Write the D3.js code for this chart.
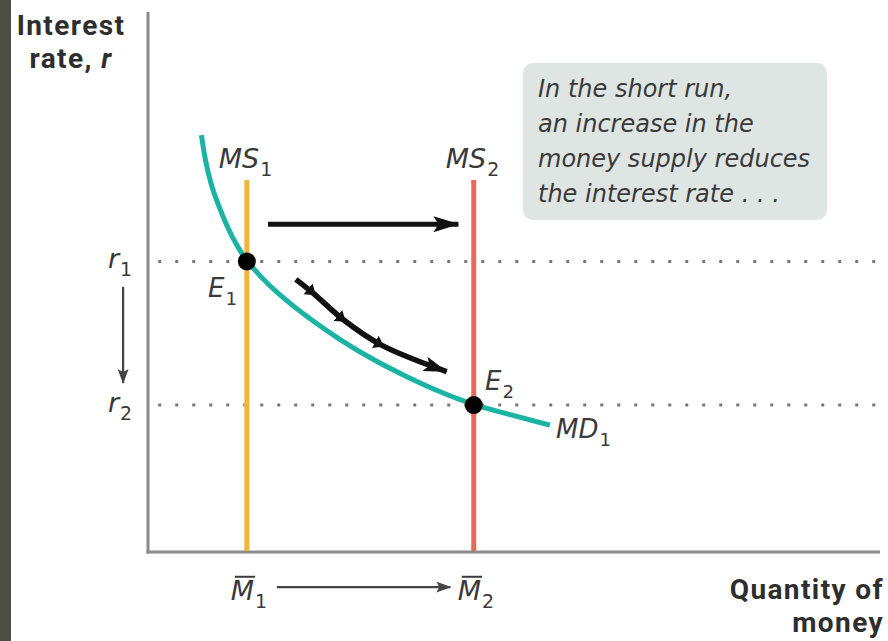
<!DOCTYPE html>
<html><head><meta charset="utf-8">
<script src="https://cdn.jsdelivr.net/npm/d3@7"></script>
<style>
html,body{margin:0;padding:0;background:#fff;}
svg{display:block;}
text{font-family:"Open Sans","DejaVu Sans",sans-serif;fill:#333;}
</style></head>
<body>
<script>
// ---- data (quantity of money 0..100, interest rate 0..100) ----
const mdQuantity = [7.3, 7.8, 8.6, 9.6, 10.7, 12.0, 13.5, 15.6, 17.6, 21.7, 26.2, 30.7, 35.4, 39.9, 44.5, 49.0, 54.9];
const mdRate     = [77.2, 72.6, 68.0, 64.3, 60.6, 57.0, 53.8, 50.7, 48.0, 43.5, 39.3, 35.6, 32.4, 29.6, 27.2, 25.6, 23.5];
const supplyQuantities = [13.5, 44.5];          // MS1, MS2
const supplyTop = 68.9;
const supplyColors = ["#f3b340", "#e9685a"];
const supplyLabels = ["1", "2"];
const equilibriumRates = [53.8, 27.2];          // r1, r2
const rateLabels = ["1", "2"];
const shiftArrowQ = [16.4, 42.4], shiftArrowR = 60.7;
const moveArrowQ = [20.2, 22.6, 26.7, 31.9, 40.8];
const moveArrowR = [50.5, 47.9, 43.0, 38.3, 33.4];
const noteLines = ["In the short run,", "an increase in the", "money supply reduces", "the interest rate . . ."];

const W = 888, H = 641;
const svg = d3.select("body").append("svg").attr("width", W).attr("height", H);
svg.append("rect").attr("width", W).attr("height", H).attr("fill", "#fff");
svg.append("rect").attr("width", 11).attr("height", H).attr("fill", "#4d4f45");

const x = d3.scaleLinear().domain([0, 100]).range([148, 880]);
const y = d3.scaleLinear().domain([0, 100]).range([552, 12]);

const defs = svg.append("defs");
function marker(id, color, w, h) {
  defs.append("marker").attr("id", id).attr("viewBox", `0 0 ${w} ${h}`)
    .attr("refX", w - 1).attr("refY", h / 2).attr("markerWidth", w).attr("markerHeight", h)
    .attr("markerUnits", "userSpaceOnUse").attr("orient", "auto")
    .append("path").attr("d", `M0,0 L${w},${h/2} L0,${h} L${w*0.2},${h/2} Z`).attr("fill", color);
}
marker("ahBig", "#111", 26, 16);
marker("ahMid", "#111", 24, 15);
marker("ahGray", "#444", 15, 11);
defs.append("marker").attr("id", "chev").attr("viewBox", "0 0 12 14")
  .attr("refX", 7).attr("refY", 7).attr("markerWidth", 12).attr("markerHeight", 14)
  .attr("markerUnits", "userSpaceOnUse").attr("orient", "auto")
  .append("path").attr("d", "M0,0 L10,7 L0,14 Z").attr("fill", "#111");

// dotted rate lines
equilibriumRates.forEach(r => {
  svg.append("line").attr("x1", x(1.4)).attr("x2", W).attr("y1", y(r)).attr("y2", y(r))
    .attr("stroke", "#777").attr("stroke-width", 3).attr("stroke-dasharray", "3,14");
});

// axes
svg.append("line").attr("x1", x(0)).attr("x2", x(0)).attr("y1", 12).attr("y2", y(0) + 1.5)
  .attr("stroke", "#8a8a8a").attr("stroke-width", 3);
svg.append("line").attr("x1", x(0) - 1.5).attr("x2", x(100)).attr("y1", y(0)).attr("y2", y(0))
  .attr("stroke", "#8a8a8a").attr("stroke-width", 3);

// money supply lines
supplyQuantities.forEach((q, i) => {
  svg.append("line").attr("x1", x(q)).attr("x2", x(q)).attr("y1", y(supplyTop)).attr("y2", y(0) - 1)
    .attr("stroke", supplyColors[i]).attr("stroke-width", 5);
});

// money demand curve
const md = mdQuantity.map((q, i) => [q, mdRate[i]]);
svg.append("path").datum(md)
  .attr("d", d3.line().x(d => x(d[0])).y(d => y(d[1])).curve(d3.curveBasis))
  .attr("fill", "none").attr("stroke", "#1bb3a3").attr("stroke-width", 5).attr("stroke-linecap", "butt");

// equilibrium points
supplyQuantities.forEach((q, i) => {
  svg.append("circle").attr("cx", x(q)).attr("cy", y(equilibriumRates[i])).attr("r", 9).attr("fill", "#000");
});

// shift arrow
svg.append("line").attr("x1", x(shiftArrowQ[0])).attr("x2", x(shiftArrowQ[1]))
  .attr("y1", y(shiftArrowR)).attr("y2", y(shiftArrowR))
  .attr("stroke", "#111").attr("stroke-width", 5).attr("marker-end", "url(#ahBig)");

// movement arrow along curve
const mv = moveArrowQ.map((q, i) => [q, moveArrowR[i]]);
svg.append("path").datum(mv)
  .attr("d", d3.line().x(d => x(d[0])).y(d => y(d[1])).curve(d3.curveCatmullRom.alpha(0.5)))
  .attr("fill", "none").attr("stroke", "#111").attr("stroke-width", 5.5)
  .attr("marker-mid", "url(#chev)").attr("marker-end", "url(#ahMid)");

// r1 -> r2 arrow
svg.append("line").attr("x1", x(-3.4)).attr("x2", x(-3.4)).attr("y1", y(49.1)).attr("y2", y(31.3))
  .attr("stroke", "#444").attr("stroke-width", 2.2).attr("marker-end", "url(#ahGray)");
// M1 -> M2 arrow
svg.append("line").attr("x1", x(17.6)).attr("x2", x(41.3)).attr("y1", y(-6.5)).attr("y2", y(-6.5))
  .attr("stroke", "#444").attr("stroke-width", 2.2).attr("marker-end", "url(#ahGray)");

// italic label with subscript
const labFont = '"DejaVu Sans", sans-serif';
function subLabel(px, py, main, sub, size, bar) {
  const t = svg.append("text").attr("x", px).attr("y", py)
    .style("font-family", labFont).style("font-style", "italic").style("font-size", size + "px").style("fill", "#3a3a3a");
  t.append("tspan").text(main);
  t.append("tspan").attr("dy", 8).attr("dx", 1).style("font-size", (size * 0.7) + "px").style("font-style", "normal").text(sub);
  if (bar) {
    const ext = t.node().getExtentOfChar(0);
    svg.append("line").attr("x1", ext.x + 4).attr("x2", ext.x + ext.width + 1)
      .attr("y1", py - size * 0.86).attr("y2", py - size * 0.86)
      .attr("stroke", "#3a3a3a").attr("stroke-width", 2);
  }
  return t;
}

// axis titles
const titleStyle = t => t.style("font-family", "Roboto, 'Open Sans', sans-serif").style("font-weight", "bold")
  .style("font-size", "28px").style("letter-spacing", "1.4px").style("fill", "#2e2e2e");
titleStyle(svg.append("text").attr("x", 71).attr("y", 35).attr("text-anchor", "middle")).text("Interest");
const yt2 = titleStyle(svg.append("text").attr("x", 71).attr("y", 68).attr("text-anchor", "middle"));
yt2.append("tspan").text("rate, ");
yt2.append("tspan").style("font-style", "italic").text("r");
titleStyle(svg.append("text").attr("x", 884).attr("y", 599).attr("text-anchor", "end")).text("Quantity of");
titleStyle(svg.append("text").attr("x", 884).attr("y", 632).attr("text-anchor", "end")).text("money");

// labels
supplyQuantities.forEach((q, i) => subLabel(x(q) - 28, 168, "MS", supplyLabels[i], 27));
equilibriumRates.forEach((r, i) => subLabel(108, y(r) + 7, "r", rateLabels[i], 27));
subLabel(208, 297, "E", "1", 26);
subLabel(485, 390, "E", "2", 26);
subLabel(556, 438, "MD", "1", 26);
supplyQuantities.forEach((q, i) => subLabel(x(q) - 16, 600, "M", supplyLabels[i], 27, true));

// note box
svg.append("rect").attr("x", 523).attr("y", 63).attr("width", 304).attr("height", 157).attr("rx", 10)
  .attr("fill", "#dfe5e3");
noteLines.forEach((s, i) => {
  svg.append("text").attr("x", 538).attr("y", 97 + i * 35)
    .style("font-family", labFont).style("font-style", "italic").style("font-size", "24px")
    .style("fill", "#3a3a3a").text(s);
});
</script>
</body></html>
